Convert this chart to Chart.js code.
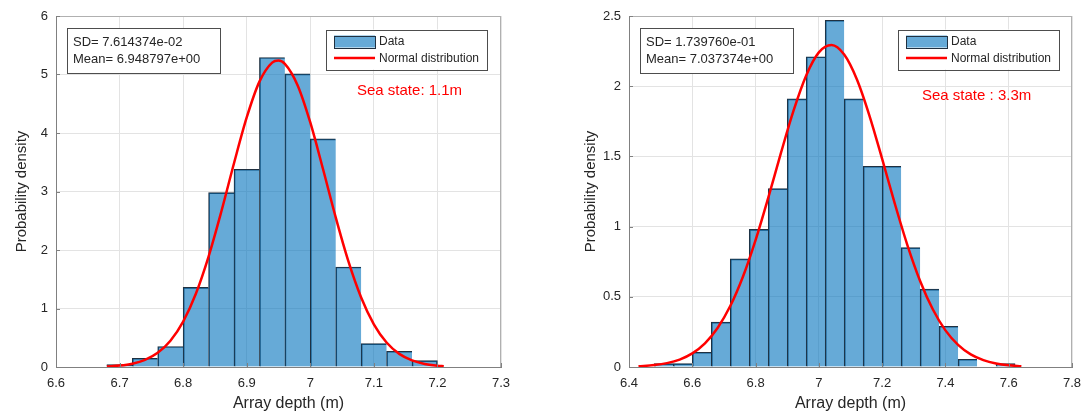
<!DOCTYPE html>
<html>
<head>
<meta charset="utf-8">
<script src="https://cdn.jsdelivr.net/npm/chart.js@4.4.1/dist/chart.umd.min.js"></script>
<style>
  html, body { margin: 0; padding: 0; background: #fff; overflow: hidden; }
  #wrap { position: relative; width: 1081px; height: 416px; }
  canvas { position: absolute; top: 0; }
</style>
</head>
<body>
<div id="wrap">
  <canvas id="leftChart" width="540" height="416" style="left:0"></canvas>
  <canvas id="rightChart" width="522" height="416" style="left:559px"></canvas>
</div>
<script>
// sea state 1.1m : histogram bin centres (width 0.04) and densities
var leftBins = [6.70, 6.74, 6.78, 6.82, 6.86, 6.90, 6.94, 6.98, 7.02, 7.06, 7.10, 7.14, 7.18];
var leftDensity = [0.04, 0.15, 0.35, 1.36, 2.98, 3.38, 5.29, 5.01, 3.90, 1.71, 0.40, 0.27, 0.11];
var leftCurveX = [6.68, 6.70, 6.72, 6.74, 6.76, 6.78, 6.80, 6.82, 6.84, 6.86, 6.88, 6.90, 6.92, 6.94, 6.95,
  6.96, 6.98, 7.00, 7.02, 7.04, 7.06, 7.08, 7.10, 7.12, 7.14, 7.16, 7.18, 7.20, 7.21];
var leftCurveY = [0.010, 0.025, 0.057, 0.122, 0.242, 0.449, 0.777, 1.253, 1.888, 2.654, 3.483, 4.266, 4.878, 5.204, 5.239,
  5.183, 4.818, 4.180, 3.384, 2.557, 1.804, 1.187, 0.729, 0.418, 0.224, 0.112, 0.052, 0.023, 0.014];
var leftXTicks = [6.6, 6.7, 6.8, 6.9, 7.0, 7.1, 7.2, 7.3];
var leftYTicks = [0, 1, 2, 3, 4, 5, 6];
var leftStats = ['SD= 7.614374e-02', 'Mean= 6.948797e+00'];
var leftSea = 'Sea state: 1.1m';

// sea state 3.3m : histogram bin centres (width 0.06) and densities
var rightBins = [6.51, 6.57, 6.63, 6.69, 6.75, 6.81, 6.87, 6.93, 6.99, 7.05, 7.11, 7.17, 7.23, 7.29, 7.35, 7.41, 7.47, 7.53, 7.59];
var rightDensity = [0.024, 0.024, 0.105, 0.32, 0.77, 0.98, 1.27, 1.91, 2.21, 2.47, 1.91, 1.43, 1.43, 0.85, 0.555, 0.29, 0.055, 0, 0.024];
var rightCurveX = [6.43, 6.48, 6.52, 6.56, 6.60, 6.64, 6.68, 6.72, 6.76, 6.80, 6.84, 6.88, 6.92, 6.96, 7.00, 7.04,
  7.08, 7.12, 7.16, 7.20, 7.24, 7.28, 7.32, 7.36, 7.40, 7.44, 7.48, 7.52, 7.56, 7.60, 7.64];
var rightCurveY = [0.005, 0.0135, 0.0276, 0.0531, 0.0973, 0.169, 0.278, 0.434, 0.643, 0.904, 1.205, 1.523, 1.826, 2.077, 2.241, 2.293,
  2.225, 2.049, 1.789, 1.482, 1.164, 0.867, 0.613, 0.411, 0.261, 0.158, 0.090, 0.049, 0.025, 0.012, 0.006];
var rightXTicks = [6.4, 6.6, 6.8, 7.0, 7.2, 7.4, 7.6, 7.8];
var rightYTicks = [0, 0.5, 1, 1.5, 2, 2.5];
var rightStats = ['SD= 1.739760e-01', 'Mean= 7.037374e+00'];
var rightSea = 'Sea state : 3.3m';

var FONT = "'Liberation Sans', Arial, sans-serif";
var INK = '#262626';
var BAR_FILL = 'rgba(0,114,189,0.6)';
var BAR_EDGE = '#1f3040';

Chart.defaults.font.family = FONT;
Chart.defaults.color = INK;

function px(v) { return Math.round(v) + 0.5; }

// axes box, inward ticks, stats box, legend and labels
var overlay = {
  id: 'overlay',
  afterDatasetsDraw: function (chart) {
    var o = chart.options.plugins.overlay;
    var ctx = chart.ctx, ca = chart.chartArea;
    var xs = chart.scales.x, ys = chart.scales.y;
    ctx.save();
    ctx.lineWidth = 1;

    ctx.strokeStyle = '#b0b0b0';
    ctx.beginPath();
    ctx.moveTo(ca.left, px(ca.top)); ctx.lineTo(ca.right, px(ca.top));
    ctx.moveTo(px(ca.right - 1), ca.top); ctx.lineTo(px(ca.right - 1), ca.bottom);
    ctx.stroke();

    ctx.strokeStyle = '#808080';
    ctx.beginPath();
    ctx.moveTo(px(ca.left), ca.top); ctx.lineTo(px(ca.left), ca.bottom + 1);
    ctx.moveTo(ca.left, px(ca.bottom)); ctx.lineTo(ca.right, px(ca.bottom));
    xs.ticks.forEach(function (t) {
      var x = px(xs.getPixelForValue(t.value));
      ctx.moveTo(x, ca.bottom); ctx.lineTo(x, ca.bottom - 4);
    });
    ys.ticks.forEach(function (t) {
      var y = px(ys.getPixelForValue(t.value));
      ctx.moveTo(ca.left, y); ctx.lineTo(ca.left + 4, y);
    });
    ctx.stroke();

    // stats box
    var bx = ca.left + 11, by = ca.top + 12;
    ctx.fillStyle = '#fff';
    ctx.fillRect(bx, by, 153, 45);
    ctx.strokeStyle = '#4d4d4d';
    ctx.strokeRect(bx + 0.5, by + 0.5, 153, 45);
    ctx.fillStyle = INK;
    ctx.font = '13px ' + FONT;
    ctx.textAlign = 'left';
    ctx.textBaseline = 'middle';
    ctx.fillText(o.stats[0], bx + 6, by + 14);
    ctx.fillText(o.stats[1], bx + 6, by + 31);

    // legend
    var lx = ca.right - o.legendRight - 161, ly = ca.top + 13.5;
    ctx.fillStyle = '#fff';
    ctx.fillRect(lx, ly, 161, 40);
    ctx.strokeRect(px(lx), px(ly), 161, 40);
    ctx.fillStyle = BAR_FILL;
    ctx.fillRect(lx + 8, ly + 6, 41, 12);
    ctx.strokeStyle = BAR_EDGE;
    ctx.strokeRect(px(lx + 8), px(ly + 6), 41, 12);
    ctx.strokeStyle = '#ff0000';
    ctx.lineWidth = 2.5;
    ctx.beginPath();
    ctx.moveTo(lx + 8, ly + 28.5); ctx.lineTo(lx + 49, ly + 28.5);
    ctx.stroke();
    ctx.fillStyle = INK;
    ctx.font = '12px ' + FONT;
    ctx.fillText('Data', lx + 53, ly + 12);
    ctx.fillText('Normal distribution', lx + 53, ly + 29);

    // sea state label
    ctx.fillStyle = '#ff0000';
    ctx.font = '15px ' + FONT;
    ctx.fillText(o.sea, ca.left + o.seaX, ca.top + o.seaY);

    // x axis title
    ctx.fillStyle = INK;
    ctx.font = '16px ' + FONT;
    ctx.textAlign = 'center';
    ctx.fillText('Array depth (m)', (ca.left + ca.right) / 2 + o.titleShift, 404);
    ctx.restore();
  }
};

function makeChart(id, p) {
  var n = p.bins.length;
  var xLast = p.xTicks[p.xTicks.length - 1];
  var yLast = p.yTicks[p.yTicks.length - 1];
  return new Chart(document.getElementById(id), {
    type: 'bar',
    data: {
      datasets: [{
        type: 'line',
        label: 'Normal distribution',
        data: p.curveX.map(function (x, i) { return { x: x, y: p.curveY[i] }; }),
        borderColor: '#ff0000',
        borderWidth: 2.5,
        pointRadius: 0,
        fill: false,
        cubicInterpolationMode: 'monotone',
        order: 0
      }, {
        label: 'Data',
        data: p.bins.map(function (x, i) { return { x: x, y: p.density[i] }; }),
        backgroundColor: BAR_FILL,
        borderColor: BAR_EDGE,
        borderWidth: function (c) {
          return { left: 1, top: 1, right: c.dataIndex === n - 1 ? 1 : 0, bottom: 0 };
        },
        borderSkipped: false,
        barPercentage: 1,
        categoryPercentage: 1,
        order: 1
      }]
    },
    options: {
      responsive: false,
      animation: false,
      layout: { padding: { top: 16, right: p.padRight, left: 0, bottom: 0 } },
      plugins: {
        legend: { display: false },
        tooltip: { enabled: false },
        overlay: {
          stats: p.stats, sea: p.sea, seaX: p.seaX, seaY: p.seaY,
          legendRight: p.legendRight, titleShift: p.titleShift
        }
      },
      scales: {
        x: {
          type: 'linear',
          min: p.xTicks[0],
          max: xLast,
          offset: false,
          afterBuildTicks: function (s) { s.ticks = p.xTicks.map(function (v) { return { value: v }; }); },
          afterFit: function (s) { s.height = 49; s.paddingLeft = 0; s.paddingRight = 0; },
          grid: { color: '#e3e3e3', drawTicks: false, offset: false },
          border: { color: '#808080' },
          ticks: {
            padding: 9, color: INK, font: { size: 13 }, maxRotation: 0, autoSkip: false,
            callback: function (v) { return String(+(+v).toFixed(2)); }
          }
        },
        y: {
          min: 0,
          max: yLast,
          afterBuildTicks: function (s) { s.ticks = p.yTicks.map(function (v) { return { value: v }; }); },
          afterFit: function (s) { s.width = p.yWidth; s.paddingTop = 0; s.paddingBottom = 0; },
          grid: { color: '#e3e3e3', drawTicks: false },
          border: { color: '#808080' },
          title: {
            display: true, text: 'Probability density', color: INK,
            font: { size: 15 }, padding: { top: p.yTitlePad, bottom: 0 }
          },
          ticks: {
            padding: 8, color: INK, font: { size: 13 }, autoSkip: false,
            callback: function (v) { return String(+(+v).toFixed(2)); }
          }
        }
      }
    },
    plugins: [overlay]
  });
}

makeChart('leftChart', {
  bins: leftBins, density: leftDensity, curveX: leftCurveX, curveY: leftCurveY,
  xTicks: leftXTicks, yTicks: leftYTicks, stats: leftStats, sea: leftSea,
  seaX: 301, seaY: 75, legendRight: 14, titleShift: 10,
  padRight: 39, yWidth: 56, yTitlePad: 13
});

makeChart('rightChart', {
  bins: rightBins, density: rightDensity, curveX: rightCurveX, curveY: rightCurveY,
  xTicks: rightXTicks, yTicks: rightYTicks, stats: rightStats, sea: rightSea,
  seaX: 293, seaY: 80, legendRight: 13, titleShift: 0,
  padRight: 9, yWidth: 70, yTitlePad: 23
});
</script>
</body>
</html>
